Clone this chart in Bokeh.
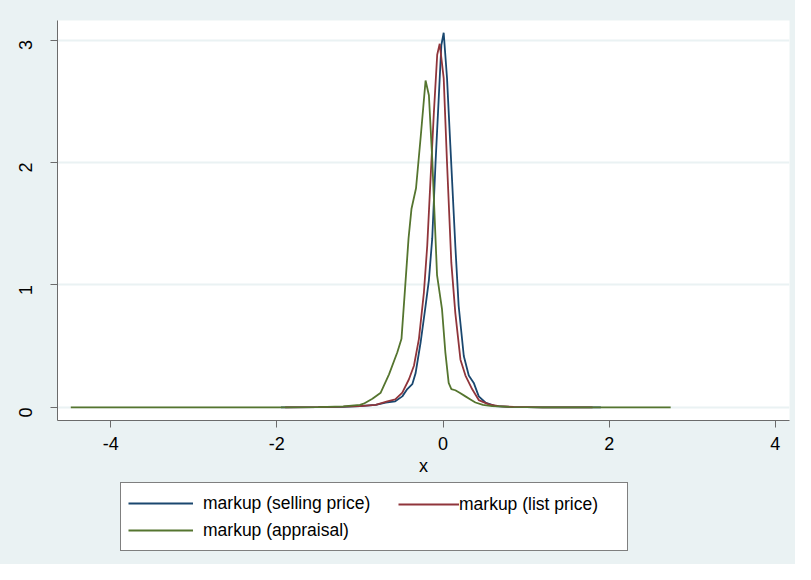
import math
from bokeh.plotting import figure
from bokeh.layouts import column
from bokeh.models import Legend, LegendItem, Range1d, FixedTicker
from bokeh.embed import file_html
from bokeh.resources import INLINE

# ---- data ----
sell_x = [-1.95, -1.5, -1.2, -1.0, -0.81, -0.69, -0.575, -0.49, -0.43, -0.37, -0.33, -0.27, -0.21,
          -0.17, -0.13, -0.09, -0.05, -0.02, 0.008, 0.048, 0.088, 0.148, 0.188, 0.25, 0.31, 0.37,
          0.43, 0.51, 0.63, 0.8, 1.2, 1.9]
sell_y = [0.0, 0.002, 0.005, 0.01, 0.02, 0.04, 0.05, 0.09, 0.15, 0.19, 0.28, 0.53, 0.83,
          1.04, 1.38, 2.0, 2.55, 2.96, 3.06, 2.69, 2.14, 1.32, 0.83, 0.42, 0.26, 0.20,
          0.09, 0.04, 0.01, 0.004, 0.001, 0.0]

list_x = [-1.9, -1.5, -1.2, -1.0, -0.81, -0.67, -0.575, -0.49, -0.41, -0.35, -0.29, -0.23, -0.19,
          -0.15, -0.11, -0.07, -0.04, 0.008, 0.048, 0.10, 0.148, 0.21, 0.27, 0.35, 0.43, 0.55,
          0.67, 0.85, 1.2, 1.8]
list_y = [0.0, 0.002, 0.006, 0.01, 0.02, 0.05, 0.065, 0.12, 0.23, 0.34, 0.56, 0.94, 1.32,
          1.87, 2.41, 2.88, 2.97, 2.69, 2.0, 1.18, 0.77, 0.39, 0.26, 0.15, 0.06, 0.025,
          0.01, 0.004, 0.001, 0.0]

appr_x = [-4.48, -3.5, -2.5, -2.0, -1.5, -1.2, -1.0, -0.955, -0.85, -0.75, -0.65, -0.55, -0.5,
          -0.455, -0.415, -0.38, -0.325, -0.27, -0.21, -0.17, -0.13, -0.072, -0.012, 0.028,
          0.068, 0.1, 0.148, 0.2, 0.27, 0.33, 0.39, 0.48, 0.59, 0.8, 1.2, 1.8, 2.2, 2.74]
appr_y = [0.0, 0.0, 0.0, 0.001, 0.003, 0.008, 0.02, 0.03, 0.07, 0.12, 0.27, 0.45, 0.56,
          0.99, 1.38, 1.62, 1.79, 2.20, 2.67, 2.55, 2.03, 1.08, 0.80, 0.45,
          0.20, 0.15, 0.14, 0.12, 0.09, 0.065, 0.04, 0.02, 0.01, 0.004, 0.001, 0.001, 0.0, 0.0]

x_ticks = [-4, -2, 0, 2, 4]
x_tick_labels = ["-4", "-2", "0", "2", "4"]
y_ticks = [0, 1, 2, 3]
labels = ["markup (selling price)", "markup (list price)", "markup (appraisal)"]
colors = ["#1A476F", "#90353B", "#55752F"]

FONT = "Liberation Sans"
BG = "#EAF2F3"
W = 795
H_MAIN = 482
H_LEG = 82

# ---------------- main plot ----------------
p = figure(width=W, height=H_MAIN, output_backend="svg", toolbar_location=None,
           x_range=Range1d(-4.64, 4.17), y_range=Range1d(-0.107, 3.16),
           min_border_left=57, min_border_right=6, min_border_top=20, min_border_bottom=62)
p.background_fill_color = "white"
p.border_fill_color = BG
p.outline_line_color = None

p.line(sell_x, sell_y, line_color=colors[0], line_width=1.8)
p.line(list_x, list_y, line_color=colors[1], line_width=1.8)
p.line(appr_x, appr_y, line_color=colors[2], line_width=1.8)

p.xgrid.grid_line_color = None
p.ygrid.grid_line_color = BG
p.ygrid.grid_line_width = 2
p.xaxis.ticker = FixedTicker(ticks=x_ticks)
p.yaxis.ticker = FixedTicker(ticks=y_ticks)
p.xaxis.major_label_overrides = {t: s for t, s in zip(x_ticks, x_tick_labels)}
for ax in (p.xaxis[0], p.yaxis[0]):
    ax.axis_line_color = "#6b6b6b"
    ax.major_tick_line_color = "#6b6b6b"
    ax.minor_tick_line_color = None
    ax.major_tick_in = 0
    ax.major_tick_out = 7
    ax.major_label_text_font = FONT
    ax.major_label_text_font_size = "18px"
    ax.major_label_text_color = "black"
    ax.axis_label_text_font = FONT
    ax.axis_label_text_font_size = "18px"
    ax.axis_label_text_font_style = "normal"
    ax.axis_label_text_color = "black"
p.xaxis.axis_label = "x"
p.xaxis.major_label_standoff = 9
p.xaxis.axis_label_standoff = 3
p.yaxis.major_label_orientation = math.pi / 2
p.yaxis.major_label_standoff = 25

# ---------------- legend strip ----------------
q = figure(width=W, height=H_LEG, output_backend="svg", toolbar_location=None,
           x_range=Range1d(0, 1), y_range=Range1d(0, 1),
           x_axis_location=None, y_axis_location=None, min_border=0)
q.background_fill_color = BG
q.border_fill_color = BG
q.outline_line_color = None
q.grid.visible = False

# legend swatches only: a single undefined point, so nothing is drawn in the strip
nan = float("nan")
g1 = q.line(x=[nan], y=[nan], line_color=colors[0], line_width=2)
g2 = q.line(x=[nan], y=[nan], line_color=colors[1], line_width=2)
g3 = q.line(x=[nan], y=[nan], line_color=colors[2], line_width=2)

common = dict(label_text_font=FONT, label_text_font_size="17.5px", label_text_color="black",
              label_height=26, glyph_height=26, spacing=1, margin=0)
# the strip's frame is aligned with the main frame (left edge 57 px in)
leg1 = Legend(items=[LegendItem(label=labels[0], renderers=[g1]),
                     LegendItem(label=labels[2], renderers=[g3])],
              location=(63, 13), glyph_width=65, label_standoff=10, label_width=417,
              padding=7, border_line_color="black", border_line_width=1,
              background_fill_color="white", background_fill_alpha=1.0, **common)
leg2 = Legend(items=[LegendItem(label=labels[1], renderers=[g2])],
              location=(341, 47), glyph_width=61, label_standoff=0, padding=0,
              border_line_color=None, background_fill_alpha=0.0, **common)
q.add_layout(leg1, "center")
q.add_layout(leg2, "center")

layout = column(p, q, spacing=0, styles={"background-color": BG})
open("out.html", "w").write(file_html(layout, INLINE))
